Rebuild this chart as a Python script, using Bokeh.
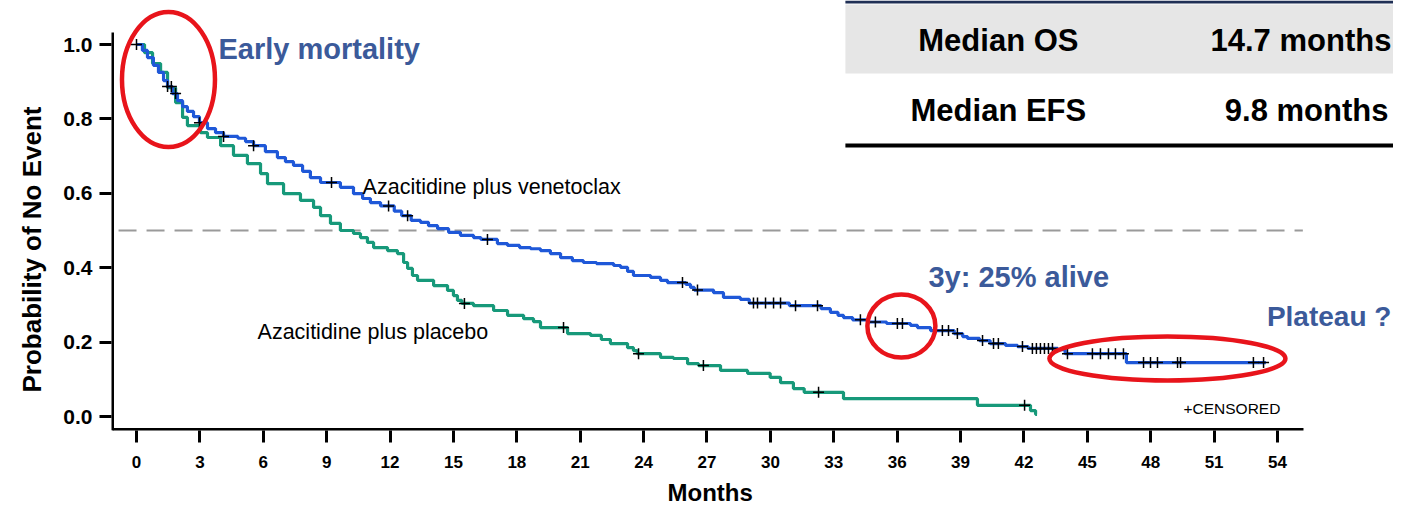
import numpy as np
from bokeh.plotting import figure
from bokeh.models import Range1d, FixedTicker, PrintfTickFormatter, Label, BoxAnnotation, Title
from bokeh.embed import file_html
from bokeh.resources import INLINE

# ---------------- data ----------------
ven_time = [0, 0.28, 0.52, 0.80, 1.04, 1.28, 1.47, 1.70, 1.94, 2.18, 2.41, 2.70, 2.98, 3.36, 3.74,
            4.12, 4.80, 5.16, 5.54, 6.10, 6.67, 7.05, 7.43, 7.86, 8.23, 8.71, 9.65, 10.27, 10.70,
            11.07, 11.55, 12.20, 12.55, 13.00, 13.44, 13.82, 14.25, 14.77, 15.33, 15.95, 16.30,
            17.08, 17.56, 18.13, 18.65, 19.12, 19.59, 20.07, 20.63, 21.15, 21.77, 22.58, 22.91,
            23.24, 23.52, 24.33, 24.80, 25.13, 26.00, 26.22, 26.40, 27.31, 27.78, 28.58, 29.00,
            30.90, 32.40, 32.84, 33.20, 33.46, 33.89, 34.60, 35.50, 36.63, 36.96, 37.58, 38.70,
            39.10, 39.33, 39.90, 40.40, 41.13, 41.70, 42.20, 43.60, 43.95, 46.85, 53.45]
ven_surv = [1.000, 0.984, 0.965, 0.944, 0.925, 0.903, 0.887, 0.868, 0.849, 0.833, 0.820, 0.806,
            0.790, 0.774, 0.763, 0.753, 0.748, 0.739, 0.728, 0.712, 0.696, 0.685, 0.675, 0.659,
            0.642, 0.629, 0.616, 0.599, 0.586, 0.575, 0.566, 0.552, 0.540, 0.527, 0.522, 0.513,
            0.505, 0.495, 0.487, 0.481, 0.476, 0.465, 0.460, 0.454, 0.451, 0.446, 0.438, 0.427,
            0.419, 0.414, 0.411, 0.406, 0.401, 0.390, 0.379, 0.374, 0.366, 0.360, 0.355, 0.347,
            0.340, 0.333, 0.320, 0.315, 0.305, 0.298, 0.290, 0.280, 0.272, 0.266, 0.260, 0.254,
            0.250, 0.245, 0.239, 0.231, 0.223, 0.215, 0.210, 0.204, 0.196, 0.191, 0.188, 0.183,
            0.180, 0.169, 0.145, 0.145]
ven_censor = [0.0, 1.47, 1.65, 1.85, 2.98, 4.12, 5.54, 9.23, 11.93, 12.83, 16.61, 25.84, 26.55,
              29.20, 29.39, 29.77, 30.15, 30.48, 31.19, 32.23, 34.26, 34.97, 36.01, 36.25, 38.14,
              38.43, 38.85, 40.04, 40.56, 40.79, 41.93, 42.40, 42.59, 42.78, 42.97, 43.16, 43.35,
              44.06, 45.24, 45.62, 46.00, 46.33, 46.71, 47.66, 47.99, 48.32, 49.27, 49.41, 52.86,
              53.34]

pla_time = [0, 0.38, 0.76, 1.14, 1.47, 1.85, 2.18, 2.41, 3.03, 3.36, 3.98, 4.59, 5.25, 5.87,
            6.20, 6.96, 7.76, 8.38, 8.71, 9.18, 9.65, 10.27, 10.60, 10.93, 11.22, 11.88, 12.35,
            12.64, 12.83, 13.06, 13.30, 14.06, 14.72, 15.00, 15.19, 15.40, 15.95, 16.90, 17.56,
            18.32, 18.79, 19.12, 20.40, 21.49, 22.00, 22.43, 23.24, 23.52, 23.70, 24.80, 25.41,
            26.08, 26.60, 27.64, 28.92, 29.99, 30.48, 31.09, 31.60, 33.46, 39.80, 42.31, 42.55,
            42.62]
pla_surv = [1.000, 0.978, 0.949, 0.925, 0.884, 0.844, 0.804, 0.782, 0.763, 0.750, 0.728, 0.702,
            0.680, 0.653, 0.626, 0.599, 0.581, 0.562, 0.540, 0.519, 0.500, 0.492, 0.481, 0.468,
            0.454, 0.446, 0.438, 0.414, 0.398, 0.379, 0.366, 0.352, 0.339, 0.325, 0.312, 0.304,
            0.298, 0.285, 0.272, 0.263, 0.255, 0.239, 0.223, 0.218, 0.207, 0.196, 0.185, 0.177,
            0.169, 0.159, 0.156, 0.142, 0.137, 0.124, 0.116, 0.105, 0.091, 0.075, 0.065, 0.048,
            0.030, 0.016, 0.006, 0.006]
pla_censor = [15.52, 20.21, 23.76, 26.83, 32.28, 42.03]

x_ticks = [0, 3, 6, 9, 12, 15, 18, 21, 24, 27, 30, 33, 36, 39, 42, 45, 48, 51, 54]
y_ticks = [0.0, 0.2, 0.4, 0.6, 0.8, 1.0]

table_rows = ["Median OS", "Median EFS"]
table_vals = ["14.7 months", "9.8 months"]

# ---------------- styling ----------------
BLUE = "#1f58d8"
GREEN = "#17997a"
ANNO = "#3b5a9a"
RED = "#e8141b"
SANS = "Liberation Sans"


def level_at(times, surv, t):
    idx = np.searchsorted(np.asarray(times), np.asarray(t), side="right") - 1
    return list(np.asarray(surv)[idx])


p = figure(width=1393, height=512, x_range=Range1d(-1.183, 59.49), y_range=Range1d(-0.0376, 1.1183),
           output_backend="svg", toolbar_location=None,
           min_border_left=111, min_border_right=0, min_border_top=0, min_border_bottom=82)
p.outline_line_color = None
p.xgrid.visible = False
p.ygrid.visible = False
p.background_fill_color = "white"

for ax in (p.xaxis[0], p.yaxis[0]):
    ax.axis_line_color = None
    ax.major_tick_line_width = 3
    ax.major_tick_line_color = "black"
    ax.major_tick_in = 0
    ax.major_tick_out = 12
    ax.minor_tick_line_color = None
    ax.major_label_text_color = "black"
    ax.major_label_text_font = SANS
    ax.major_label_text_font_style = "bold"

p.xaxis.ticker = FixedTicker(ticks=x_ticks)
p.yaxis.ticker = FixedTicker(ticks=y_ticks)
p.yaxis.formatter = PrintfTickFormatter(format="%.1f")
p.xaxis.major_label_text_font_size = "17px"
p.xaxis.major_label_standoff = 13
p.yaxis.major_label_text_font_size = "21px"
p.yaxis.major_label_standoff = 7

# axis titles as side titles (shifted along the side with offset)
p.add_layout(Title(text="Probability of No Event", align="left", offset=38, standoff=27,
                   text_font=SANS, text_font_size="26px", text_font_style="bold",
                   text_color="black"), "left")
p.add_layout(Title(text="Months", align="left", offset=556, standoff=13,
                   text_font=SANS, text_font_size="24px", text_font_style="bold",
                   text_color="black"), "below")

# axis lines (drawn only over the data region)
p.segment(x0=[-1.136, -1.136], y0=[-0.0376, -0.035], x1=[-1.136, 55.23], y1=[1.032, -0.035],
          line_color="black", line_width=3)

# median reference line
p.segment(x0=[-0.85], y0=[0.5], x1=[55.2], y1=[0.5], line_color="#9a9a9a", line_width=2,
          line_dash="18 10")

# curves
p.step(pla_time, pla_surv, mode="after", line_color=GREEN, line_width=3.2)
p.step(ven_time, ven_surv, mode="after", line_color=BLUE, line_width=3.2)

# censor marks
p.scatter(ven_censor, level_at(ven_time, ven_surv, ven_censor), marker="cross", size=11,
          line_color="black", line_width=1.5)
p.scatter(pla_censor, level_at(pla_time, pla_surv, pla_censor), marker="cross", size=11,
          line_color="black", line_width=1.5)

# highlight ellipses
p.ellipse(x=[1.514, 36.2, 48.79], y=[0.906, 0.2433, 0.156], width=[93, 68, 236], height=[135, 63, 44],
          width_units="screen", height_units="screen", fill_alpha=0, line_color=RED, line_width=4.5)

# summary table
p.add_layout(BoxAnnotation(left=33.55, right=62, bottom=0.922, top=1.1075, fill_color="#e6e6e6",
                           fill_alpha=1, line_color=None, level="underlay"))
p.segment(x0=[33.55, 33.55], y0=[1.1142, 0.7285], x1=[62, 62], y1=[1.1142, 0.7285],
          line_color=["#1f2f55", "black"], line_width=[3, 4])

def add_label(x, y, text, font, size, color="black", style="normal", align="left"):
    p.add_layout(Label(x=x, y=y, text=text, text_font=font, text_font_size=size,
                       text_font_style=style, text_color=color, text_align=align,
                       text_baseline="middle"))

add_label(40.79, 1.011, table_rows[0], SANS, "31px", style="bold", align="center")
add_label(40.79, 0.823, table_rows[1], SANS, "31px", style="bold", align="center")
add_label(59.39, 1.011, table_vals[0], SANS, "31px", style="bold", align="right")
add_label(59.25, 0.823, table_vals[1], SANS, "31px", style="bold", align="right")

# annotations
add_label(3.88, 0.989, "Early mortality", SANS, "29px", color=ANNO, style="bold")
add_label(37.48, 0.374, "3y: 25% alive", SANS, "29px", color=ANNO, style="bold")
add_label(59.39, 0.269, "Plateau ?", SANS, "28px", color=ANNO, style="bold", align="right")

add_label(10.70, 0.616, "Azacitidine plus venetoclax", SANS, "21.5px")
add_label(5.73, 0.226, "Azacitidine plus placebo", SANS, "21.5px")
add_label(49.55, 0.0215, "+CENSORED", SANS, "15.5px")

open("out.html", "w").write(file_html(p, INLINE))
